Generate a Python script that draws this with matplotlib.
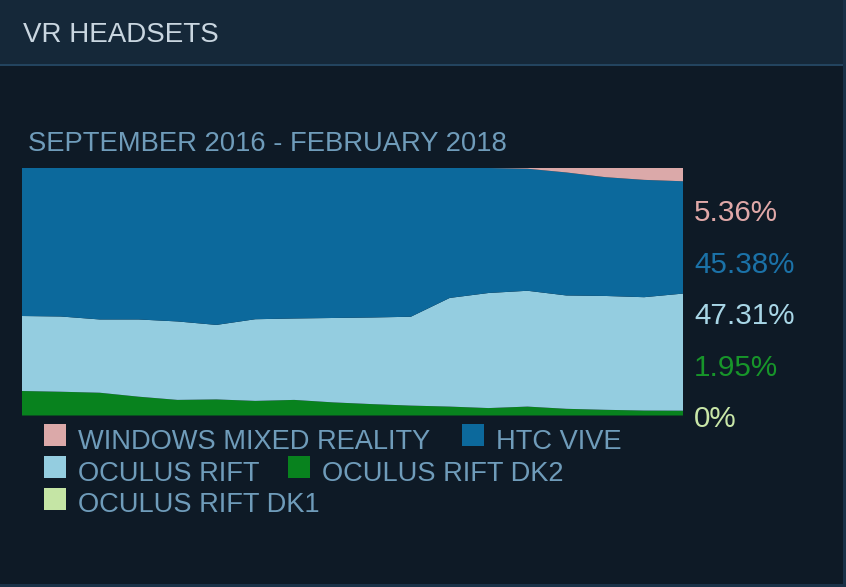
import numpy as np
import matplotlib
matplotlib.use("Agg")
import matplotlib.pyplot as plt
from matplotlib.patches import Rectangle

plt.rcParams['font.family'] = ['Liberation Sans', 'DejaVu Sans']

# monthly shares, Sep 2016 .. Feb 2018 (percent)
months = ["2016-09", "2016-10", "2016-11", "2016-12", "2017-01", "2017-02",
          "2017-03", "2017-04", "2017-05", "2017-06", "2017-07", "2017-08",
          "2017-09", "2017-10", "2017-11", "2017-12", "2018-01", "2018-02"]
oculus_dk1 = [0.0] * 18
oculus_dk2 = [9.9, 9.6, 9.2, 7.6, 6.3, 6.5, 5.9, 6.3, 5.3, 4.6, 4.0, 3.6,
              3.0, 3.6, 2.7, 2.3, 2.0, 1.95]
oculus_rift = [30.3, 30.4, 29.6, 31.2, 31.7, 30.1, 33.0, 32.9, 34.1, 35.0, 35.9, 43.9,
               46.5, 46.8, 45.8, 46.0, 45.8, 47.31]
windows_mr = [0, 0, 0, 0, 0, 0, 0, 0, 0, 0, 0, 0,
              0, 0.3, 1.8, 3.7, 4.8, 5.36]
htc_vive = [100 - a - b - c - d for a, b, c, d in zip(oculus_dk1, oculus_dk2, oculus_rift, windows_mr)]

names = ["WINDOWS MIXED REALITY", "HTC VIVE", "OCULUS RIFT", "OCULUS RIFT DK2", "OCULUS RIFT DK1"]
last_labels = ["5.36%", "45.38%", "47.31%", "1.95%", "0%"]
colors = ["#dba9a9", "#0c699c", "#94cde0", "#08821e", "#c5e5a5"]
label_colors = ["#e0a8a8", "#1b72a8", "#a8d6e6", "#17952a", "#c8e6a8"]

W, H = 846, 587
fig = plt.figure(figsize=(W / 100, H / 100), dpi=100)
fig.patch.set_facecolor("#0e1a26")


def fx(x):
    return x / W


def fy(y):
    return 1 - y / H


# header band + separator
fig.patches.append(Rectangle((0, fy(64)), 1, 64 / H, transform=fig.transFigure,
                             facecolor="#152839", edgecolor="none", zorder=0))
fig.patches.append(Rectangle((0, fy(66)), 1, 2 / H, transform=fig.transFigure,
                             facecolor="#23445f", edgecolor="none", zorder=1))
fig.patches.append(Rectangle((fx(843), 0), 3 / W, 1, transform=fig.transFigure,
                             facecolor="#1a3147", edgecolor="none", zorder=1))
fig.patches.append(Rectangle((0, 0), 1, 3 / H, transform=fig.transFigure,
                             facecolor="#1a3147", edgecolor="none", zorder=1))

fig.text(fx(23), fy(42), "VR HEADSETS", fontsize=20, color="#c9d6e0", va="baseline")
fig.text(fx(28), fy(151), "SEPTEMBER 2016 - FEBRUARY 2018", fontsize=19.75,
         color="#6f9cba", va="baseline")

# stacked area chart
ax = fig.add_axes([fx(22), fy(415.5), 661 / W, 247.5 / H])
x = np.arange(len(months))
stack = [oculus_dk1, oculus_dk2, oculus_rift, htc_vive, windows_mr]
stack_colors = [colors[4], colors[3], colors[2], colors[1], colors[0]]
ax.stackplot(x, *stack, colors=stack_colors, linewidth=0)
ax.set_xlim(0, len(months) - 1)
ax.set_ylim(0, 100)
ax.axis("off")

# last-value labels
for i, (lab, col) in enumerate(zip(last_labels, label_colors)):
    fig.text(fx(694), fy(221 + i * 51.5), lab, fontsize=21.3, color=col, va="baseline")

# legend
legend_rows = [[(0, 44), (1, 462)], [(2, 44), (3, 288)], [(4, 44)]]
row_base = [449, 481, 512.5]
for row, base in zip(legend_rows, row_base):
    for idx, sx in row:
        fig.patches.append(Rectangle((fx(sx), fy(base - 3)), 22 / W, 22 / H,
                                     transform=fig.transFigure, facecolor=colors[idx],
                                     edgecolor="none"))
        fig.text(fx(sx + 34), fy(base), names[idx], fontsize=19.6, color="#6f9cba",
                 va="baseline")

fig.savefig("out.png", dpi=100, facecolor=fig.get_facecolor())
